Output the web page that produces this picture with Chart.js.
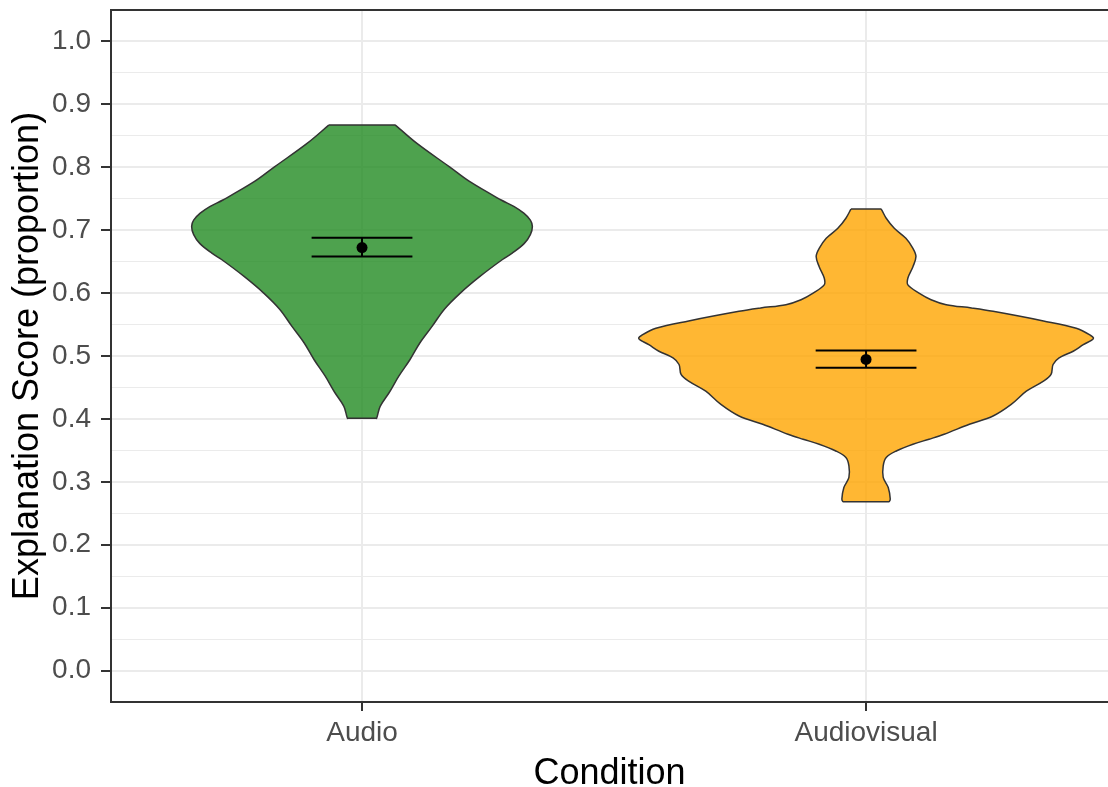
<!DOCTYPE html>
<html>
<head>
<meta charset="utf-8">
<script src="https://cdn.jsdelivr.net/npm/chart.js@4/dist/chart.umd.min.js"></script>
<style>
html,body{margin:0;padding:0;background:#ffffff;}
#wrap{width:1108px;height:787px;}
</style>
</head>
<body>
<div id="wrap"><canvas id="c" width="1108" height="787"></canvas></div>
<script>
// ---- data ----
const categories = ['Audio', 'Audiovisual'];

// violin outline: score levels (top -> bottom) and half-widths (x-axis units)
const audioLevels = [0.867, 0.838, 0.801, 0.777, 0.748, 0.7375, 0.727, 0.716, 0.706, 0.693, 0.679, 0.6635, 0.653, 0.6265, 0.600, 0.574, 0.547, 0.521, 0.494, 0.468, 0.442, 0.420, 0.401];
const audioHalfWidths = [0.066, 0.109, 0.173, 0.214, 0.276, 0.302, 0.321, 0.334, 0.338, 0.334, 0.322, 0.298, 0.278, 0.234, 0.195, 0.163, 0.139, 0.115, 0.095, 0.073, 0.054, 0.036, 0.029];

const avLevels = [0.7335, 0.719, 0.703, 0.687, 0.671, 0.658, 0.642, 0.624, 0.613, 0.600, 0.5895, 0.5816, 0.5763, 0.571, 0.5557, 0.544, 0.533, 0.5277, 0.518, 0.5076, 0.497, 0.4865, 0.4707, 0.460, 0.444, 0.423, 0.4046, 0.3914, 0.3756, 0.3677, 0.3598, 0.349, 0.3386, 0.3254, 0.307, 0.291, 0.2726, 0.2685];
const avHalfWidths = [0.030, 0.040, 0.056, 0.079, 0.093, 0.099, 0.093, 0.083, 0.083, 0.105, 0.129, 0.159, 0.209, 0.252, 0.352, 0.417, 0.445, 0.451, 0.431, 0.411, 0.383, 0.371, 0.367, 0.352, 0.318, 0.288, 0.252, 0.205, 0.155, 0.125, 0.093, 0.060, 0.040, 0.034, 0.034, 0.044, 0.048, 0.046];

const means   = [0.6724, 0.4945];
const ciLower = [0.6582, 0.4813];
const ciUpper = [0.6878, 0.5087];

const yTickValues = [0.0, 0.1, 0.2, 0.3, 0.4, 0.5, 0.6, 0.7, 0.8, 0.9, 1.0];
const yTickLabels = ['0.0', '0.1', '0.2', '0.3', '0.4', '0.5', '0.6', '0.7', '0.8', '0.9', '1.0'];

// ---- construction ----
const violinFill = ['rgba(34,139,34,0.8)', 'rgba(255,165,0,0.8)'];
const errHalf = 0.1;

function violinPath(center, levels, hw) {
  const eps = 0.002;
  const n = levels.length;
  const pts = [];
  pts.push({x: center - hw[0], y: levels[0]});
  pts.push({x: center - hw[0] + eps, y: levels[0]});
  pts.push({x: center + hw[0] - eps, y: levels[0]});
  for (let i = 0; i < n; i++) pts.push({x: center + hw[i], y: levels[i]});
  pts.push({x: center + hw[n - 1] - eps, y: levels[n - 1]});
  pts.push({x: center - hw[n - 1] + eps, y: levels[n - 1]});
  for (let i = n - 1; i >= 0; i--) pts.push({x: center - hw[i], y: levels[i]});
  return pts;
}

function errorBarData(i) {
  const c = i + 1;
  return [
    {x: c - errHalf, y: ciUpper[i]}, {x: c + errHalf, y: ciUpper[i]}, {x: c, y: null},
    {x: c - errHalf, y: ciLower[i]}, {x: c + errHalf, y: ciLower[i]}, {x: c, y: null},
    {x: c, y: ciUpper[i]}, {x: c, y: ciLower[i]}
  ];
}

const yMinor = yTickValues.slice(0, -1).map((v, i) => (v + yTickValues[i + 1]) / 2);
const yAllTicks = yTickValues.concat(yMinor).sort((a, b) => a - b);
const isMajor = v => yTickValues.some(t => Math.abs(t - v) < 1e-9);

const violinSets = [
  violinPath(1, audioLevels, audioHalfWidths),
  violinPath(2, avLevels, avHalfWidths)
].map((pts, i) => ({
  data: pts,
  showLine: true,
  fill: 'shape',
  tension: 0.35,
  borderColor: '#333333',
  borderWidth: 1.5,
  backgroundColor: violinFill[i],
  pointRadius: 0,
  order: 3
}));

const errorSets = categories.map((c, i) => ({
  data: errorBarData(i),
  showLine: true,
  spanGaps: false,
  fill: false,
  tension: 0,
  borderColor: '#000000',
  borderWidth: 2,
  pointRadius: 0,
  order: 2
}));

const meanSet = {
  data: means.map((m, i) => ({x: i + 1, y: m})),
  showLine: false,
  pointRadius: 5.5,
  pointBorderWidth: 0,
  pointBackgroundColor: '#000000',
  backgroundColor: '#000000',
  order: 1
};

const topBorder = {
  id: 'topBorder',
  afterDraw(chart) {
    const {ctx, chartArea: a} = chart;
    ctx.save();
    ctx.strokeStyle = '#333333';
    ctx.lineWidth = 2;
    ctx.beginPath();
    ctx.moveTo(a.left - 1, a.top);
    ctx.lineTo(a.right, a.top);
    ctx.stroke();
    ctx.restore();
  }
};

Chart.defaults.font.family = '"Liberation Sans", Arial, Helvetica, sans-serif';

new Chart(document.getElementById('c'), {
  type: 'scatter',
  data: {datasets: [meanSet, ...errorSets, ...violinSets]},
  plugins: [topBorder],
  options: {
    responsive: false,
    animation: false,
    events: [],
    layout: {autoPadding: false, padding: {top: 10, left: 0, right: 0, bottom: 0}},
    plugins: {legend: {display: false}, tooltip: {enabled: false}},
    scales: {
      x: {
        type: 'linear',
        min: 0.502,
        max: 2.48,
        bounds: 'data',
        afterBuildTicks: s => { s.ticks = categories.map((c, i) => ({value: i + 1})); },
        afterFit: s => { s.height = 85; s.paddingLeft = 0; s.paddingRight = 0; },
        grid: {color: '#EBEBEB', lineWidth: 2, drawTicks: true, tickLength: 9, tickColor: '#333333', tickWidth: 2},
        border: {color: '#333333', width: 2},
        ticks: {
          autoSkip: false, maxRotation: 0, minRotation: 0, padding: 5,
          color: '#4D4D4D', font: {size: 28},
          callback: (v, i) => categories[i]
        },
        title: {display: true, text: 'Condition', color: '#000000', font: {size: 36, lineHeight: 0.74}, padding: 0}
      },
      y: {
        type: 'linear',
        min: -0.05,
        max: 1.05,
        bounds: 'data',
        afterBuildTicks: s => { s.ticks = yAllTicks.map(v => ({value: v})); },
        afterFit: s => { s.width = 111; s.paddingTop = 0; s.paddingBottom = 0; },
        grid: {
          color: '#EBEBEB',
          lineWidth: ctx => (ctx.tick && isMajor(ctx.tick.value)) ? 2 : 1,
          drawTicks: true,
          tickLength: 10,
          tickWidth: 2,
          tickColor: ctx => (ctx.tick && isMajor(ctx.tick.value)) ? '#333333' : 'rgba(0,0,0,0)'
        },
        border: {color: '#333333', width: 2},
        ticks: {
          autoSkip: false, padding: 10,
          color: '#4D4D4D', font: {size: 28},
          callback: v => {
            const k = yTickValues.findIndex(t => Math.abs(t - v) < 1e-9);
            return k >= 0 ? yTickLabels[k] : '';
          }
        },
        title: {display: true, text: 'Explanation Score (proportion)', color: '#000000', font: {size: 36}, padding: {top: 6, bottom: 0}}
      }
    }
  }
});
</script>
</body>
</html>
